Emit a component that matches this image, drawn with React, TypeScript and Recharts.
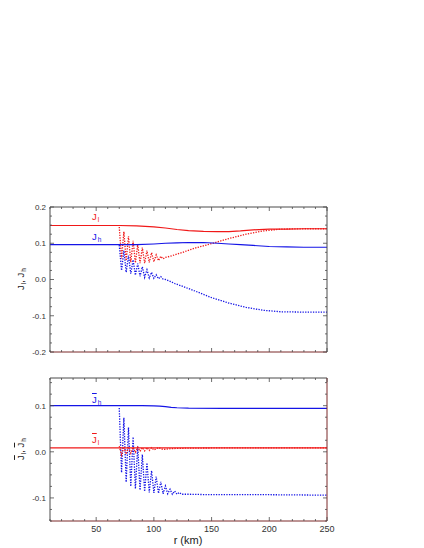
import { LineChart, Line, XAxis, YAxis } from 'recharts';

// r grid (km) and values
const rSolidTop = [10, 30, 50, 70, 85, 100, 110, 120, 130, 143, 155, 165, 175, 186, 200, 215, 230, 250];
const jlTop = [0.149, 0.149, 0.149, 0.149, 0.148, 0.145, 0.142, 0.138, 0.135, 0.133, 0.132, 0.132, 0.134, 0.137, 0.139, 0.139, 0.14, 0.14];
const jhTop = [0.096, 0.096, 0.096, 0.096, 0.096, 0.098, 0.1, 0.101, 0.102, 0.102, 0.1, 0.098, 0.096, 0.094, 0.091, 0.09, 0.089, 0.089];

const rDotTop = [70, 72, 74, 76, 78, 80, 82, 84, 86, 88, 90, 92, 94, 96, 98, 100, 102, 104, 106, 108, 110, 114, 118, 125, 135, 150, 165, 180, 195, 210, 230, 250];
const jlDotTop = [0.145, 0.058, 0.132, 0.052, 0.119, 0.048, 0.107, 0.046, 0.097, 0.045, 0.088, 0.045, 0.08, 0.047, 0.074, 0.049, 0.068, 0.052, 0.064, 0.057, 0.061, 0.064, 0.068, 0.075, 0.086, 0.099, 0.113, 0.125, 0.134, 0.139, 0.14, 0.14];
const jhDotTop = [0.095, 0.025, 0.08, 0.02, 0.066, 0.016, 0.054, 0.012, 0.044, 0.009, 0.035, 0.006, 0.027, 0.004, 0.02, 0.003, 0.013, 0.002, 0.008, 0.001, 0.0, -0.005, -0.011, -0.019, -0.031, -0.05, -0.065, -0.077, -0.085, -0.089, -0.09, -0.09];

const rSolidBot = [10, 50, 90, 100, 105, 110, 115, 120, 125, 130, 160, 200, 250];
const jhBarBot = [0.1, 0.1, 0.1, 0.0995, 0.099, 0.098, 0.0965, 0.0955, 0.095, 0.0945, 0.094, 0.094, 0.094];
const jlBarBot = [0.0085, 0.0085, 0.0085, 0.0085, 0.0085, 0.0085, 0.0085, 0.0085, 0.0085, 0.0085, 0.0085, 0.0085, 0.0085];

const rDotBotH = [70, 72, 74, 76, 78, 80, 82, 84, 86, 88, 90, 92, 94, 96, 98, 100, 102, 104, 106, 108, 110, 112, 114, 116, 118, 120, 122, 124, 130, 150, 200, 250];
const jhBarDot = [0.095, -0.045, 0.074, -0.066, 0.053, -0.075, 0.032, -0.08, 0.012, -0.083, -0.006, -0.086, -0.024, -0.088, -0.041, -0.089, -0.054, -0.09, -0.065, -0.091, -0.074, -0.091, -0.081, -0.092, -0.085, -0.092, -0.088, -0.092, -0.092, -0.093, -0.093, -0.094];

const rDotBotL = [70, 72, 74, 76, 78, 80, 82, 84, 86, 88, 90, 92, 94, 96, 98, 100, 104, 108, 115, 130, 160, 250];
const jlBarDot = [0.012, -0.007, 0.011, -0.005, 0.011, -0.003, 0.01, -0.001, 0.01, 0.001, 0.009, 0.002, 0.009, 0.003, 0.009, 0.004, 0.009, 0.005, 0.007, 0.008, 0.0085, 0.0085];

// ticks
const xMajor = [50, 100, 150, 200, 250];
const xTicks = [10, 20, 30, 40, 50, 60, 70, 80, 90, 100, 110, 120, 130, 140, 150, 160, 170, 180, 190, 200, 210, 220, 230, 240, 250];
const yMajorTop = [-0.2, -0.1, 0, 0.1, 0.2];
const yTicksTop = [-0.2, -0.175, -0.15, -0.125, -0.1, -0.075, -0.05, -0.025, 0, 0.025, 0.05, 0.075, 0.1, 0.125, 0.15, 0.175, 0.2];
const yMajorBot = [-0.1, 0, 0.1];
const yTicksBot = [-0.15, -0.125, -0.1, -0.075, -0.05, -0.025, 0, 0.025, 0.05, 0.075, 0.1, 0.125, 0.15];

const RED = '#f01818';
const BLUE = '#1414e6';
const AX = '#4a4a4a';
const EDGE = '#7a2828';
const FONT = '"Liberation Sans", Arial, sans-serif';

const pts = (r: number[], v: number[]) => r.map((x, i) => ({ r: x, v: v[i] }));
const isMajor = (v: number, majors: number[]) => majors.some((m) => Math.abs(m - v) < 1e-9);

// inward tick marks, long on majors; labels only where asked
function tickFor(side: 'bottom' | 'top' | 'left' | 'right', majors: number[], labels: boolean) {
  return (p: any) => {
    const v = p.payload.value;
    const len = isMajor(v, majors) ? 4 : 2;
    const { x, y } = p;
    let line;
    if (side === 'bottom') line = <line x1={x} x2={x} y1={y} y2={y - len} />;
    else if (side === 'top') line = <line x1={x} x2={x} y1={y} y2={y + len} />;
    else if (side === 'left') line = <line x1={x} x2={x + len} y1={y} y2={y} />;
    else line = <line x1={x} x2={x - len} y1={y} y2={y} />;
    return (
      <g stroke={AX} strokeWidth={0.8}>
        {line}
        {labels && isMajor(v, majors) && side === 'bottom' && (
          <text x={x} y={y + 10.5} textAnchor="middle" fontSize={9} fontFamily={FONT} fill="#333" stroke="none">{v}</text>
        )}
        {labels && isMajor(v, majors) && side === 'left' && (
          <text x={x - 4} y={y + 2.9} textAnchor="end" fontSize={8} fontFamily={FONT} fill="#333" stroke="none">{v.toFixed(1)}</text>
        )}
      </g>
    );
  };
}

function frame(yDomain: number[], yMajor: number[], yTicks: number[], showX: boolean, rightColor: string) {
  const common = { type: 'number' as const, allowDataOverflow: true, interval: 0 as const, tickLine: false, tickSize: 0, tickMargin: 0 };
  return [
    <XAxis key="x" xAxisId="x" orientation="bottom" dataKey="r" domain={[10, 250]} ticks={xTicks} height={1}
      axisLine={{ stroke: EDGE, strokeWidth: 1 }} tick={tickFor('bottom', xMajor, showX)} {...common} />,
    <XAxis key="xt" xAxisId="xt" orientation="top" dataKey="r" domain={[10, 250]} ticks={xTicks} height={1}
      axisLine={{ stroke: AX, strokeWidth: 1 }} tick={tickFor('top', xMajor, false)} {...common} />,
    <YAxis key="y" yAxisId="y" orientation="left" domain={yDomain} ticks={yTicks} width={1}
      axisLine={{ stroke: AX, strokeWidth: 1 }} tick={tickFor('left', yMajor, true)} {...common} />,
    <YAxis key="yr" yAxisId="yr" orientation="right" domain={yDomain} ticks={yTicks} width={1}
      axisLine={{ stroke: rightColor, strokeWidth: 1 }} tick={tickFor('right', yMajor, false)} {...common} />,
  ];
}

function series(key: string, r: number[], v: number[], color: string, dotted: boolean) {
  return (
    <Line key={key} xAxisId="x" yAxisId="y" data={pts(r, v)} dataKey="v" type="linear" stroke={color}
      strokeWidth={dotted ? 1.3 : 1.2} strokeDasharray={dotted ? '1.3 1.3' : undefined}
      dot={false} activeDot={false} isAnimationActive={false} />
  );
}

const lbl = (color: string): React.CSSProperties => ({
  position: 'absolute', fontFamily: FONT, fontSize: 9.5, lineHeight: '9px', color, whiteSpace: 'nowrap',
});
const sub: React.CSSProperties = { fontSize: 6.5, position: 'relative', top: 2, marginLeft: 1 };
const bar: React.CSSProperties = { textDecoration: 'overline' };

export default function App() {
  return (
    <div style={{ position: 'absolute', left: 0, top: 0, width: 424, height: 548, background: '#fff', overflow: 'hidden' }}>
      <div style={{ position: 'absolute', left: 0, top: 0 }}>
        <LineChart width={424} height={365} margin={{ top: 206, right: 96, bottom: 12, left: 49 }}>
          {frame([-0.2, 0.2], yMajorTop, yTicksTop, false, AX)}
          {series('jhd', rDotTop, jhDotTop, BLUE, true)}
          {series('jld', rDotTop, jlDotTop, RED, true)}
          {series('jh', rSolidTop, jhTop, BLUE, false)}
          {series('jl', rSolidTop, jlTop, RED, false)}
        </LineChart>
      </div>
      <div style={{ position: 'absolute', left: 0, top: 365 }}>
        <LineChart width={424} height={183} margin={{ top: 12, right: 96, bottom: 26, left: 49 }}>
          {frame([-0.15, 0.16], yMajorBot, yTicksBot, true, EDGE)}
          {series('jhd', rDotBotH, jhBarDot, BLUE, true)}
          {series('jh', rSolidBot, jhBarBot, BLUE, false)}
          {series('jld', rDotBotL, jlBarDot, RED, true)}
          {series('jl', rSolidBot, jlBarBot, RED, false)}
        </LineChart>
      </div>

      <span style={{ ...lbl(RED), left: 92, top: 212 }}>J<span style={sub}>l</span></span>
      <span style={{ ...lbl(BLUE), left: 92, top: 232 }}>J<span style={sub}>h</span></span>
      <span style={{ ...lbl(BLUE), left: 92, top: 395 }}><span style={bar}>J</span><span style={sub}>h</span></span>
      <span style={{ ...lbl(RED), left: 92, top: 435 }}><span style={bar}>J</span><span style={sub}>l</span></span>

      <div style={{ ...lbl('#222'), left: 21, top: 279, transform: 'translate(-50%, -50%) rotate(-90deg)' }}>
        J<span style={sub}>l</span>, J<span style={sub}>h</span>
      </div>
      <div style={{ ...lbl('#222'), left: 21, top: 449, transform: 'translate(-50%, -50%) rotate(-90deg)' }}>
        <span style={bar}>J</span><span style={sub}>l</span>, <span style={bar}>J</span><span style={sub}>h</span>
      </div>
      <div style={{ ...lbl('#222'), fontSize: 11, lineHeight: '11px', left: 188, top: 534.5, transform: 'translateX(-50%)' }}>
        r (km)
      </div>
    </div>
  );
}
